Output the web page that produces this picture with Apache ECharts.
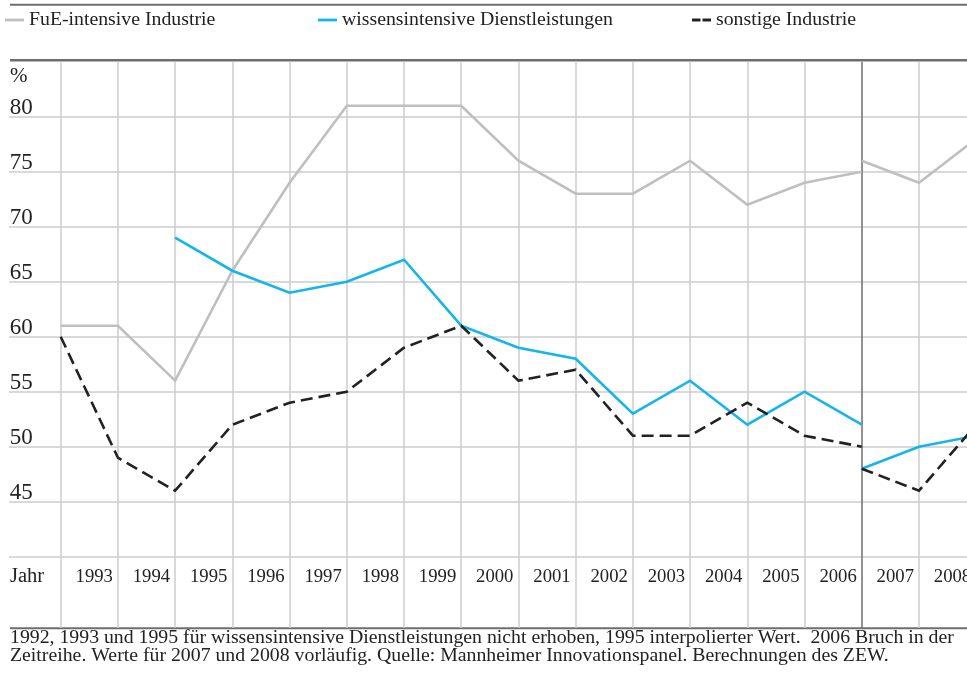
<!DOCTYPE html>
<html>
<head>
<meta charset="utf-8">
<script src="https://cdn.jsdelivr.net/npm/echarts@6/dist/echarts.min.js"></script>
<style>
  html, body { margin: 0; padding: 0; background: #fff; }
  #chart { width: 967px; height: 679px; }
</style>
</head>
<body>
<div id="chart"></div>
<script>
// Years before and after the 2006 break in the time series
const years = [1992, 1993, 1994, 1995, 1996, 1997, 1998, 1999, 2000, 2001, 2002, 2003, 2004, 2005, 2006];
const yearsNew = [2006, 2007, 2008];

// Shares in percent
const fueOld   = [61, 61, 56, 66, 74, 81, 81, 81, 76, 73, 73, 76, 72, 74, 75];
const fueNew   = [76, 74, 78];
const wissOld  = [null, null, 69, 66, 64, 65, 67, 61, 59, 58, 53, 56, 52, 55, 52];
const wissNew  = [48, 50, 51];
const sonstOld = [60, 49, 46, 52, 54, 55, 59, 61, 56, 57, 51, 51, 54, 51, 50];
const sonstNew = [48, 46, 52];

// Axis settings
const yTicks = [40, 45, 50, 55, 60, 65, 70, 75, 80];
const yLabels = [45, 50, 55, 60, 65, 70, 75, 80];
const breakYear = 2006;

const names = ['FuE-intensive Industrie', 'wissensintensive Dienstleistungen', 'sonstige Industrie'];
const note = '1992, 1993 und 1995 für wissensintensive Dienstleistungen nicht erhoben, 1995 interpolierter Wert.  2006 Bruch in der\n' +
             'Zeitreihe. Werte für 2007 und 2008 vorläufig. Quelle: Mannheimer Innovationspanel. Berechnungen des ZEW.';

const FONT = '"Liberation Serif", "DejaVu Serif", serif';
const TXT = '#222';
const GRID = '#cdcdcd';
const RULE = '#6e6e6e';
const C_FUE = '#bfbfc1';
const C_WISS = '#16b5e8';
const C_SONST = '#222222';

const pairs = (xs, ys) => xs.map((x, i) => [x, ys[i]]);

// vertical line colours: the break year is drawn darker
const vColors = [];
for (let y = 1992; y <= 2008; y++) vColors.push(y === breakYear ? '#6e6e6e' : GRID);
// horizontal line colours: 40..80 visible, 85 hidden (top rule replaces it)
const hColors = [40, 45, 50, 55, 60, 65, 70, 75, 80, 85].map(v => v === 85 ? 'rgba(0,0,0,0)' : GRID);

const GL = 60.7, GW = 915.5;

const chart = echarts.init(document.getElementById('chart'), null, { renderer: 'canvas' });

const lineSeries = (name, xs, ys, color, dashed) => ({
  name: name,
  type: 'line',
  xAxisIndex: 0,
  yAxisIndex: 0,
  data: pairs(xs, ys),
  symbol: 'none',
  connectNulls: false,
  silent: true,
  animation: false,
  lineStyle: { color: color, width: 2.6, type: dashed ? [12, 6] : 'solid', cap: 'butt', join: 'miter' },
  itemStyle: { color: color }
});

const legendBase = {
  top: 10,
  padding: 0,
  itemWidth: 19,
  itemHeight: 2.8,
  itemGap: 0,
  symbolKeepAspect: false,
  selectedMode: false,
  textStyle: { fontFamily: FONT, fontSize: 19.8, color: TXT, padding: [0, 0, 0, 0] }
};

const legendItem = (name, icon, color) => ({
  name: name, icon: icon,
  itemStyle: { color: color, borderWidth: 0, opacity: 1 }
});

chart.setOption({
  backgroundColor: '#ffffff',
  animation: false,
  textStyle: { fontFamily: FONT },
  legend: [
    Object.assign({}, legendBase, { left: 5, data: [legendItem(names[0], 'rect', C_FUE)] }),
    Object.assign({}, legendBase, { left: 318, data: [legendItem(names[1], 'rect', C_WISS)] }),
    Object.assign({}, legendBase, { left: 692,
      data: [legendItem(names[2], 'path://M0,0H8.5V2.8H0Z M10.5,0H19V2.8H10.5Z', C_SONST)] })
  ],
  title: {
    text: note,
    left: 10,
    top: 628.5,
    padding: 0,
    textStyle: { fontFamily: FONT, fontSize: 19.8, fontWeight: 'normal', color: TXT, lineHeight: 18 }
  },
  grid: [
    { left: GL, top: 61.7, width: GW, height: 495, outerBoundsMode: 'none', containLabel: false },
    { left: GL, top: 556.7, width: GW, height: 71.3, outerBoundsMode: 'none', containLabel: false }
  ],
  xAxis: [
    {
      gridIndex: 0, type: 'value', min: 1992, max: 2008, interval: 1,
      axisLine: { show: false }, axisTick: { show: false }, axisLabel: { show: false },
      splitLine: { show: true, lineStyle: { color: vColors, width: 1.5 } }
    },
    {
      gridIndex: 1, type: 'value', min: 1992, max: 2008, interval: 1, position: 'top',
      axisLine: { show: false }, axisTick: { show: false },
      splitLine: { show: true, lineStyle: { color: vColors, width: 1.5 } },
      axisLabel: {
        show: true, inside: true, margin: 11, align: 'right', padding: [0, 5, 0, 0],
        fontFamily: FONT, fontSize: 18.7, color: TXT,
        formatter: v => (v === 1992 ? '' : String(v))
      }
    }
  ],
  yAxis: [
    {
      gridIndex: 0, type: 'value', min: 40, max: 85, interval: 5,
      axisLine: { show: false },
      axisTick: { show: true, inside: false, length: 51.7, customValues: yTicks,
        lineStyle: { color: GRID, width: 1.5 } },
      axisLabel: {
        show: true, align: 'left', margin: 51, verticalAlign: 'bottom', lineHeight: 18, padding: 0,
        fontFamily: FONT, fontSize: 23, color: TXT,
        formatter: v => (yLabels.indexOf(v) >= 0 ? String(v) : '')
      },
      splitLine: { show: true, lineStyle: { color: hColors, width: 1.5 } }
    },
    {
      gridIndex: 1, type: 'value', min: 0, max: 1, show: false,
      splitLine: { show: false }
    }
  ],
  graphic: [
    { type: 'line', silent: true, shape: { x1: 10, y1: 4.7, x2: 967, y2: 4.7 }, style: { stroke: RULE, lineWidth: 2 } },
    { type: 'line', silent: true, shape: { x1: 10, y1: 60.2, x2: 967, y2: 60.2 }, style: { stroke: RULE, lineWidth: 2.4 } },
    { type: 'line', silent: true, shape: { x1: 10, y1: 628.3, x2: 967, y2: 628.3 }, style: { stroke: RULE, lineWidth: 2 } },
    { type: 'text', silent: true, left: 10, top: 66, style: { text: '%', font: '21px ' + FONT, fill: TXT } },
    { type: 'text', silent: true, left: 10, top: 566, style: { text: 'Jahr', font: '20.5px ' + FONT, fill: TXT } }
  ],
  series: [
    lineSeries(names[0], years, fueOld, C_FUE, false),
    lineSeries(names[0], yearsNew, fueNew, C_FUE, false),
    lineSeries(names[1], years, wissOld, C_WISS, false),
    lineSeries(names[1], yearsNew, wissNew, C_WISS, false),
    lineSeries(names[2], years, sonstOld, C_SONST, true),
    lineSeries(names[2], yearsNew, sonstNew, C_SONST, true)
  ]
});
</script>
</body>
</html>
